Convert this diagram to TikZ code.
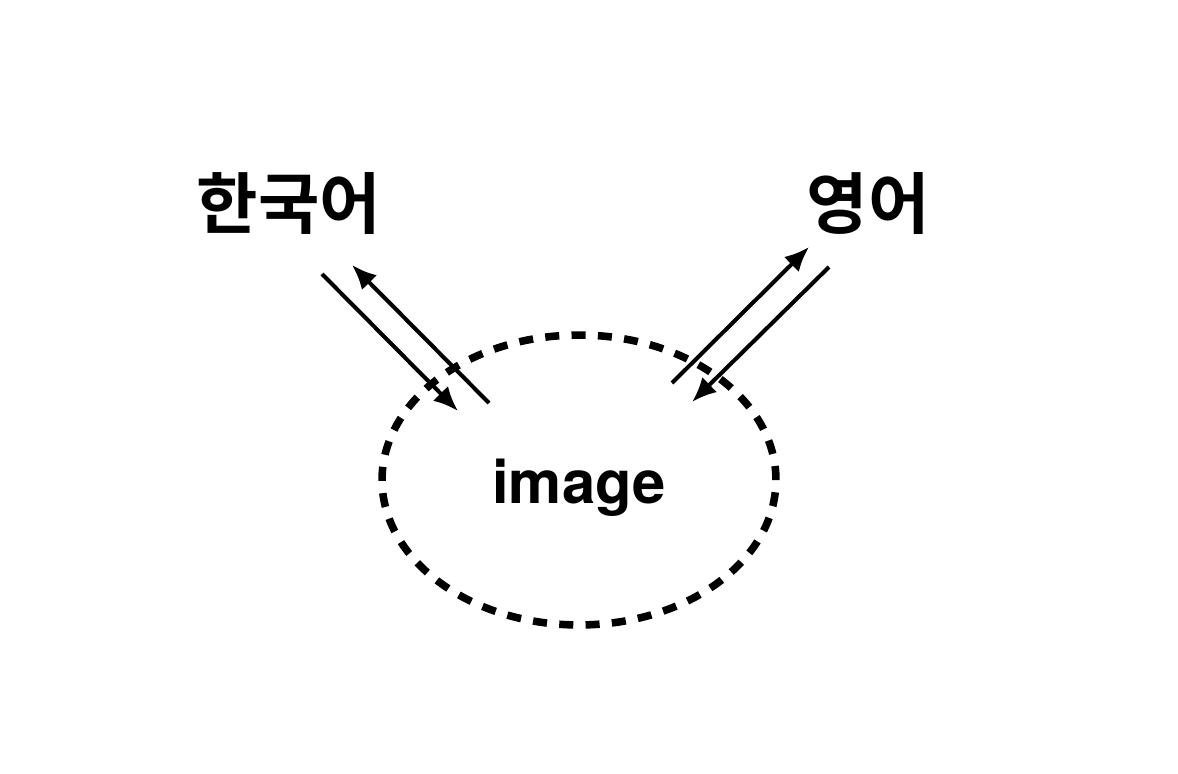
\documentclass[tikz,border=0pt]{standalone}
\usepackage{fontspec}
\setmainfont{TeX Gyre Heros}
\newfontfamily\korfont{Noto Sans CJK KR Bold}
\usetikzlibrary{shapes.geometric,arrows.meta}

\begin{document}
\begin{tikzpicture}[x=0.02cm,y=-0.02cm,
    lang/.style={font=\korfont\fontsize{38}{44}\selectfont,inner sep=0pt},
    flow/.style={line width=2.3pt,-{Latex[length=14pt,width=12pt]}}]
            \useasboundingbox (0,0) rectangle (1178,774);
            
            \node[lang] (kor) at (289,203) {한국어};
            \node[lang] (eng) at (868,203) {영어};
            \node[draw,ellipse,line width=4.3pt,dash pattern=on 8pt off 7pt,
                  minimum width=7.88cm,minimum height=5.8cm,inner sep=0pt] (pool) at (579,480) {};
            \node[anchor=base,inner sep=0pt,font=\bfseries\fontsize{34}{40}\selectfont] (img) at (579,503) {image};
            
            \coordinate (k1) at (322,274);
            \coordinate (k2) at (458,411);
            \coordinate (k3) at (489,403);
            \coordinate (k4) at (352,265);
            \coordinate (e1) at (672,383);
            \coordinate (e2) at (809,247);
            \coordinate (e3) at (829,267);
            \coordinate (e4) at (692,402);
            \draw[flow] (k1) -- (k2);
            \draw[flow] (k3) -- (k4);
            \draw[flow] (e1) -- (e2);
            \draw[flow] (e3) -- (e4);
            \end{tikzpicture}
\end{document}
